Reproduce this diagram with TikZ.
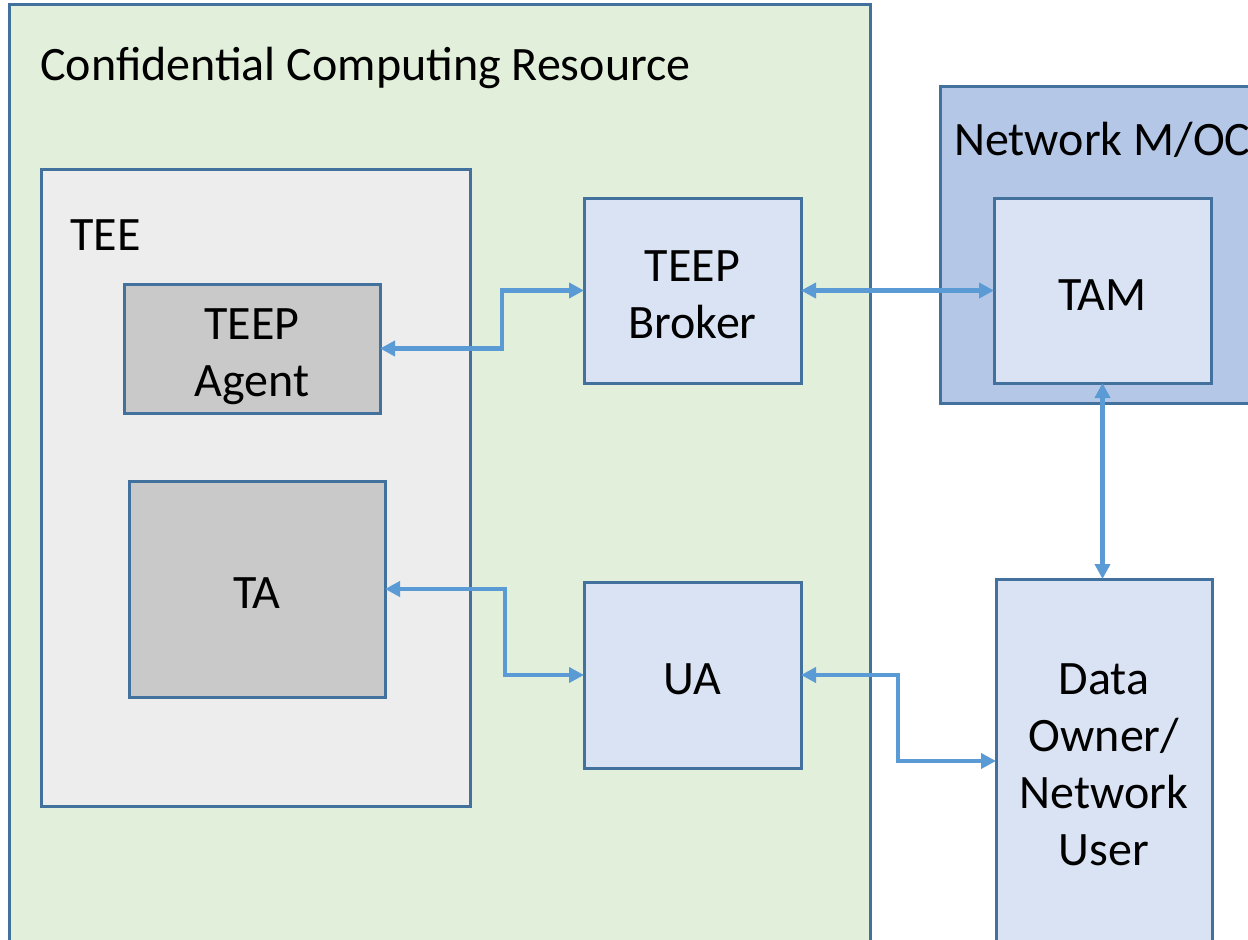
\documentclass[tikz,border=0pt]{standalone}
\usepackage{fontspec}
\setmainfont{Carlito}
\usetikzlibrary{arrows.meta}
\definecolor{crgreen}{HTML}{E2EFDA}
\definecolor{teegray}{HTML}{EDEDED}
\definecolor{compgray}{HTML}{C9C9C9}
\definecolor{paleblue}{HTML}{DAE3F3}
\definecolor{midblue}{HTML}{B4C7E7}
\definecolor{edgeblue}{HTML}{41719C}
\definecolor{linkblue}{HTML}{5B9BD5}
\tikzset{
  box/.style={draw=edgeblue, line width=3pt, inner sep=0pt, outer sep=0pt},
  boxtext/.style={inner sep=0pt, align=center, yshift=-4.5pt,
    font=\fontsize{48}{57}\selectfont},
  caption/.style={inner sep=0pt, anchor=base west, font=\fontsize{48}{57}\selectfont},
  link/.style={draw=linkblue, line width=4.5pt,
    {Triangle[length=15pt,width=15pt]}-{Triangle[length=15pt,width=15pt]}},
}
\begin{document}
\begin{tikzpicture}[x=1pt,y=-1pt]
\useasboundingbox (0,0) rectangle (1248,940);
\clip (0,0) rectangle (1248,940);
\fill[white] (0,0) rectangle (1248,940);

% containers
\node[box, fill=crgreen, minimum width=861pt, minimum height=950pt] (ccr) at (439.5,479) {};
\node[caption] (ccrlabel) at (40,80) {Confidential Computing Resource};
\node[box, fill=midblue, minimum width=330pt, minimum height=317pt] (noc) at (1105,244.5) {};
\node[caption] (noclabel) at (954,155) {Network M/OC};
\node[box, fill=teegray, minimum width=429pt, minimum height=637pt] (tee) at (255.5,487.5) {};
\node[caption] (teelabel) at (70,250) {TEE};

% components
\node[box, fill=compgray, minimum width=256pt, minimum height=129pt,
  label={[boxtext, yshift=-4pt]center:TEEP\\Agent}] (agent) at (252,348.5) {};
\node[box, fill=compgray, minimum width=256pt, minimum height=216pt,
  label={[boxtext]center:TA}] (ta) at (257,589) {};
\node[box, fill=paleblue, minimum width=217pt, minimum height=185pt,
  label={[boxtext]center:TEEP\\Broker}] (broker) at (692.5,290.5) {};
\node[box, fill=paleblue, minimum width=217pt, minimum height=186pt,
  label={[boxtext]center:UA}] (ua) at (692.5,675) {};
\node[box, fill=paleblue, minimum width=217pt, minimum height=185pt,
  label={[boxtext]center:TAM}] (tam) at (1102.5,290.5) {};
\node[box, fill=paleblue, minimum width=216pt, minimum height=372pt,
  label={[boxtext, yshift=5pt]center:Data\\Owner/\\Network\\User}] (owner) at (1104,765) {};

% links
\draw[link] (agent.east) -- ++(122,0) |- (broker.west);
\draw[link] (broker.east) -- (tam.west);
\draw[link] (tam.south) -- (tam.south |- owner.north);
\draw[link] (ta.east) -- ++(120,0) |- (ua.west);
\draw[link] (ua.east) -- ++(97,0) |- ([yshift=4pt]owner.west);
\end{tikzpicture}
\end{document}
